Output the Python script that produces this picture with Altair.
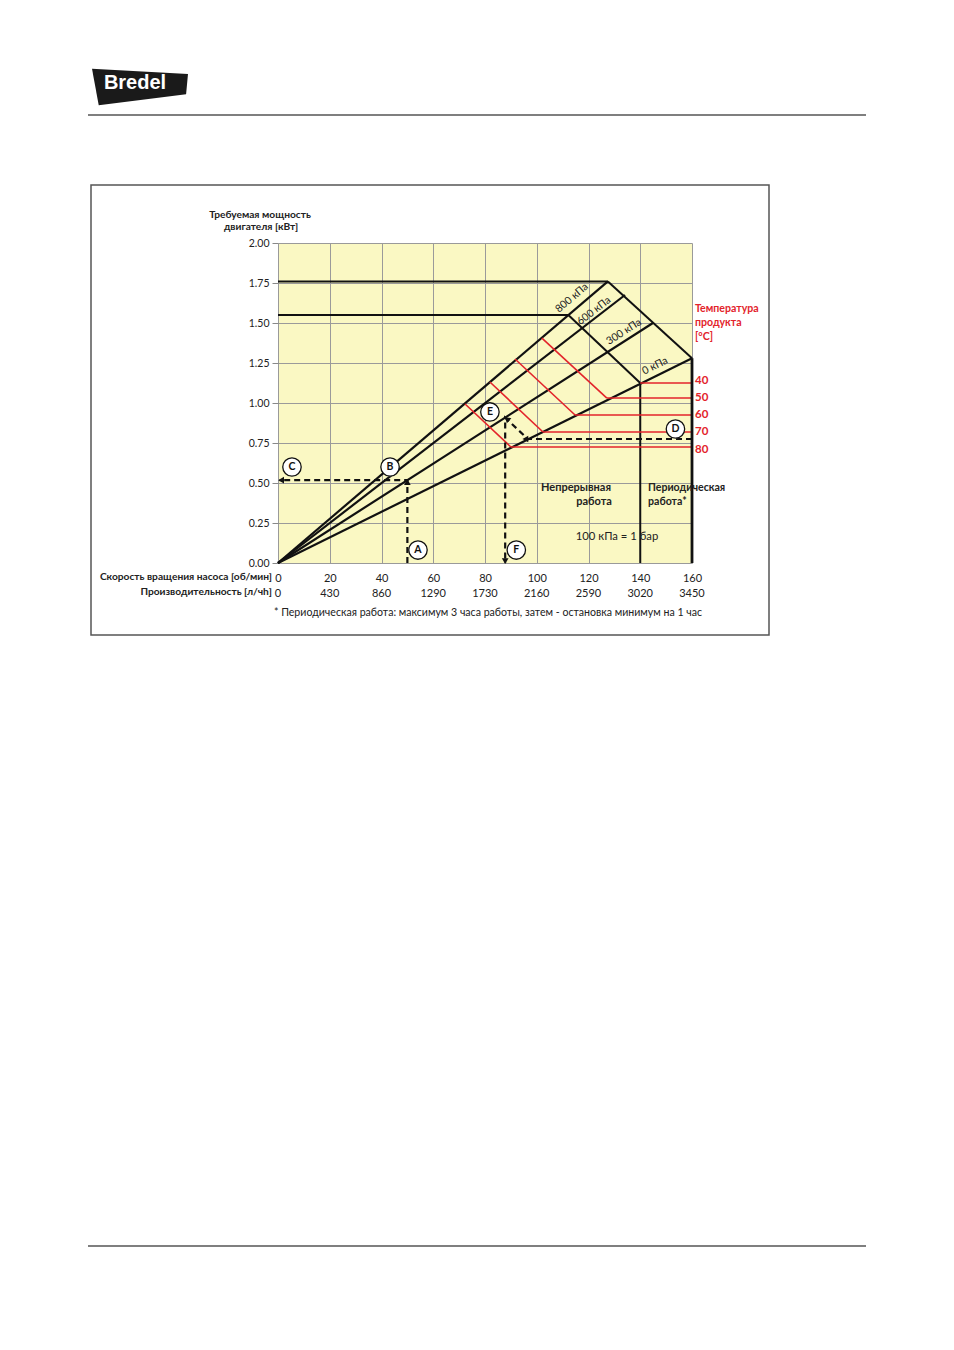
import altair as alt
import pandas as pd

# ---------------- data ----------------
rpm_ticks = [0, 20, 40, 60, 80, 100, 120, 140, 160]
flow_labels = ["0", "430", "860", "1290", "1730", "2160", "2590", "3020", "3450"]
kw_ticks = [0.0, 0.25, 0.5, 0.75, 1.0, 1.25, 1.5, 1.75, 2.0]

pressure_names = ["800 кПа", "600 кПа", "300 кПа", "0 кПа"]
pressure_end_rpm = [127.5, 134.1, 144.9, 160.0]
pressure_end_kw = [1.76, 1.675, 1.50, 1.28]
pressure_label_rpm = [113.6, 122.1, 133.7, 145.7]
pressure_label_kw = [1.656, 1.575, 1.444, 1.231]
pressure_label_angle = [319.5, 322.3, 327.4, 333.7]

temps = ["40", "50", "60", "70", "80"]
temp_top_rpm = [112.2, 102.0, 91.6, 81.9, 72.3]
temp_top_kw = [1.55, 1.406, 1.275, 1.131, 0.994]
temp_knee_rpm = [140.0, 127.1, 114.8, 102.4, 90.0]
temp_knee_kw = [1.125, 1.031, 0.925, 0.819, 0.725]
temp_label_kw = [1.1375, 1.034, 0.925, 0.816, 0.709]
max_rpm = 160.0

limit_start_rpm = [0.0, 0.0, 127.5, 140.0]
limit_start_kw = [1.76, 1.55, 1.76, 0.0]
limit_end_rpm = [127.5, 112.2, 160.0, 140.0]
limit_end_kw = [1.76, 1.55, 1.28, 1.125]
edge_rpm = [160.0]
edge_bottom_kw = [0.0]
edge_top_kw = [1.28]

route1_rpm = [50.0, 50.0, 0.6]
route1_kw = [0.0, 0.5175, 0.5175]
route2_rpm = [160.0, 96.6, 87.8, 87.8]
route2_kw = [0.775, 0.775, 0.908, 0.0]
arrow_rpm = [50.0, 1.2, 95.6, 88.5, 87.8]
arrow_kw = [0.505, 0.5175, 0.775, 0.901, 0.012]
arrow_angle = [0, 270, 270, 312, 180]

point_letters = ["A", "B", "C", "D", "E", "F"]
point_rpm = [54.1, 43.3, 5.4, 153.6, 81.9, 92.1]
point_kw = [0.081, 0.60, 0.60, 0.8375, 0.944, 0.081]

# ---------------- styling ----------------
FONT = "Lato, 'Open Sans', sans-serif"
RED = "#E3242B"
DARK = "#222222"
X = alt.Scale(domain=[0, 160], nice=False, zero=False)
Y = alt.Scale(domain=[0, 2], nice=False, zero=False)
AX = alt.Axis(values=rpm_ticks, grid=True, gridColor="#9a9a9a", gridWidth=1,
              ticks=False, domain=False, labelPadding=9, labelFontSize=11,
              labelColor=DARK, labelFont=FONT, labelFlush=False, title=None)
AY = alt.Axis(values=kw_ticks, format=".2f", grid=True, gridColor="#9a9a9a",
              gridWidth=1, tickSize=6, tickColor="#888", domain=False,
              labelPadding=3, labelFontSize=10.5, labelColor=DARK,
              labelFont=FONT, labelFlush=False, title=None)
dummy = pd.DataFrame({"d": [0]})


def xy(xf="x:Q", yf="y:Q"):
    return dict(x=alt.X(xf, scale=X, axis=AX), y=alt.Y(yf, scale=Y, axis=AY))


fan = pd.DataFrame({"x": [0.0] * 4, "y": [0.0] * 4,
                    "x2": pressure_end_rpm, "y2": pressure_end_kw})
fan_layer = alt.Chart(fan).mark_rule(color="#111", strokeWidth=2.2).encode(
    **xy(), x2="x2:Q", y2="y2:Q")

limits = pd.DataFrame({"x": limit_start_rpm, "y": limit_start_kw,
                       "x2": limit_end_rpm, "y2": limit_end_kw})
limit_layer = alt.Chart(limits).mark_rule(color="#111", strokeWidth=2).encode(
    **xy(), x2="x2:Q", y2="y2:Q")

edge = pd.DataFrame({"x": edge_rpm, "y": edge_bottom_kw, "y2": edge_top_kw})
edge_layer = alt.Chart(edge).mark_rule(color="#111", strokeWidth=2.8).encode(
    **xy(), y2="y2:Q")

tdf = pd.DataFrame({"t": temps, "x": temp_top_rpm, "y": temp_top_kw,
                    "x2": temp_knee_rpm, "y2": temp_knee_kw,
                    "yl": temp_label_kw, "xe": [max_rpm] * len(temps)})
temp_diag_red = alt.Chart(tdf.iloc[1:]).mark_rule(color=RED, strokeWidth=1.6).encode(
    **xy(), x2="x2:Q", y2="y2:Q")
temp_diag_black = alt.Chart(tdf.iloc[:1]).mark_rule(color="#111", strokeWidth=2).encode(
    **xy(), x2="x2:Q", y2="y2:Q")
temp_horiz = alt.Chart(tdf).mark_rule(color=RED, strokeWidth=1.6).encode(
    **xy("x2:Q", "y2:Q"), x2="xe:Q")
temp_text = alt.Chart(tdf).mark_text(color=RED, font=FONT, fontSize=11.5,
                                     fontWeight="bold", align="left",
                                     baseline="middle", dx=3).encode(
    **xy("xe:Q", "yl:Q"), text="t:N")

pl = pd.DataFrame({"t": pressure_names, "x": pressure_label_rpm,
                   "y": pressure_label_kw, "a": pressure_label_angle})
press_text = alt.Chart(pl).mark_text(color=DARK, font=FONT, fontSize=10.5,
                                     baseline="middle").encode(
    **xy(), text="t:N", angle=alt.Angle("a:Q", scale=None))

r1 = pd.DataFrame({"x": route1_rpm, "y": route1_kw, "i": range(len(route1_rpm))})
r2 = pd.DataFrame({"x": route2_rpm, "y": route2_kw, "i": range(len(route2_rpm))})


def route(df):
    return alt.Chart(df).mark_line(color="#111", strokeWidth=2.2,
                                   strokeDash=[6, 4]).encode(**xy(), order="i:Q")


arrows = pd.DataFrame({"x": arrow_rpm, "y": arrow_kw, "a": arrow_angle})
arrow_layer = alt.Chart(arrows).mark_point(shape="triangle-up", filled=True,
                                           color="#111", size=45, opacity=1).encode(
    **xy(), angle=alt.Angle("a:Q", scale=None))

pts = pd.DataFrame({"t": point_letters, "x": point_rpm, "y": point_kw})
circles = alt.Chart(pts).mark_point(shape="circle", filled=True, fill="white",
                                    stroke="#111", strokeWidth=1.3, size=340,
                                    opacity=1).encode(**xy())
letters = alt.Chart(pts).mark_text(font=FONT, fontSize=10.5, fontWeight="bold",
                                   color="#111", baseline="middle").encode(
    **xy(), text="t:N")

flows = pd.DataFrame({"x": rpm_ticks, "t": flow_labels})
flow_text = alt.Chart(flows).mark_text(font=FONT, fontSize=11, color=DARK,
                                       baseline="middle").encode(
    x=alt.X("x:Q", scale=X, axis=AX), y=alt.value(351), text="t:N")


def txt(s, x, y, **kw):
    opts = dict(font=FONT, fontSize=10.5, color=DARK, baseline="middle")
    opts.update(kw)
    return alt.Chart(dummy).mark_text(text=s, **opts).encode(
        x=alt.value(x), y=alt.value(y))


texts = [
    txt("Требуемая мощность", -18, -28, fontWeight="bold", fontSize=10.2),
    txt("двигателя [кВт]", -17, -16, fontWeight="bold", fontSize=10.2),
    txt("Скорость вращения насоса [об/мин]", -6, 334, align="right",
        fontWeight="bold", fontSize=10.2),
    txt("Производительность [л/чh]", -6, 349, align="right",
        fontWeight="bold", fontSize=10.2),
    txt("Температура", 417, 66, align="left", fontWeight="bold", color=RED,
        fontSize=10.6),
    txt("продукта", 417, 80, align="left", fontWeight="bold", color=RED,
        fontSize=10.6),
    txt("[°C]", 417, 94, align="left", fontWeight="bold", color=RED,
        fontSize=10.6),
    txt("Непрерывная", 298, 245, fontWeight="bold", fontSize=11),
    txt("работа", 316, 259, fontWeight="bold", fontSize=11),
    txt("Периодическая", 370, 245, align="left", fontWeight="bold",
        fontSize=10.6),
    txt("работа*", 370, 259, align="left", fontWeight="bold", fontSize=10.6),
    txt("100 кПа = 1 бар", 339, 294, fontSize=11.3),
    txt("* Периодическая работа: максимум 3 часа работы, затем - остановка минимум на 1 час",
        210, 370, fontSize=10.6),
]

frame = alt.Chart(dummy).mark_rect(filled=False, stroke="#555",
                                   strokeWidth=1.5).encode(
    x=alt.value(-187), x2=alt.value(491), y=alt.value(-58), y2=alt.value(392))
rule_top = alt.Chart(dummy).mark_rule(color="#000", strokeWidth=1.2).encode(
    x=alt.value(-190), x2=alt.value(588), y=alt.value(-128))
rule_bottom = alt.Chart(dummy).mark_rule(color="#000", strokeWidth=1.2).encode(
    x=alt.value(-190), x2=alt.value(588), y=alt.value(1003))
logo_shape = alt.Chart(dummy).mark_point(
    shape="M-1,-0.36 L1,-0.25 L0.96,0.17 L-0.86,0.4 Z", filled=True,
    color="#1a1a1a", size=9216, opacity=1).encode(
    x=alt.value(-138), y=alt.value(-157))
logo_text = alt.Chart(dummy).mark_text(
    text="Bredel", font="Liberation Sans", fontSize=20, fontWeight="bold",
    color="white", baseline="middle").encode(x=alt.value(-143), y=alt.value(-160))

chart = alt.layer(
    fan_layer, limit_layer, temp_diag_black, temp_diag_red, temp_horiz,
    edge_layer, route(r1), route(r2), arrow_layer, press_text, temp_text,
    circles, letters, flow_text, frame, rule_top, rule_bottom,
    logo_shape, logo_text, *texts
).properties(
    width=414, height=320, autosize="none",
    padding={"left": 270, "top": 235, "right": 254, "bottom": 779},
).configure_view(fill="#FAF8C3", stroke="transparent")

chart.save("out.html", embed_options={"renderer": "svg", "actions": False})
